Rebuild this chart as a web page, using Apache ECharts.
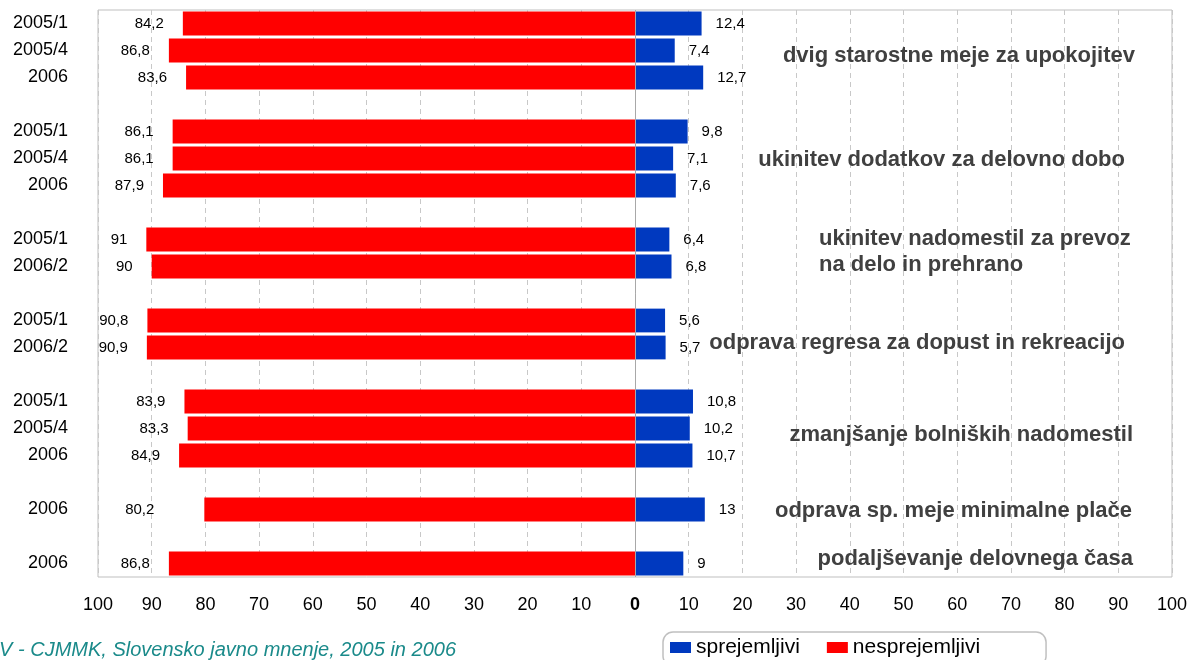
<!DOCTYPE html>
<html>
<head>
<meta charset="utf-8">
<script src="https://cdn.jsdelivr.net/npm/echarts@6/dist/echarts.min.js"></script>
<style>
html,body{margin:0;padding:0;background:#fff;}
#chart{width:1190px;height:660px;}
</style>
</head>
<body>
<div id="chart"></div>
<script>
// Row labels (empty strings are spacer rows between groups)
const categories = ['2005/1','2005/4','2006','', '2005/1','2005/4','2006','', '2005/1','2006/2','', '2005/1','2006/2','', '2005/1','2005/4','2006','', '2006','', '2006'];
// nesprejemljivi (unacceptable), %
const nesprejemljivi = [84.2, 86.8, 83.6, null, 86.1, 86.1, 87.9, null, 91, 90, null, 90.8, 90.9, null, 83.9, 83.3, 84.9, null, 80.2, null, 86.8];
// sprejemljivi (acceptable), %
const sprejemljivi = [12.4, 7.4, 12.7, null, 9.8, 7.1, 7.6, null, 6.4, 6.8, null, 5.6, 5.7, null, 10.8, 10.2, 10.7, null, 13, null, 9];
// Group titles
const groupTitles = [
  'dvig starostne meje za upokojitev',
  'ukinitev dodatkov za delovno dobo',
  'ukinitev nadomestil za prevoz\nna delo in prehrano',
  'odprava regresa za dopust in rekreacijo',
  'zmanjšanje bolniških nadomestil',
  'odprava sp. meje minimalne plače',
  'podaljševanje delovnega časa'
];
const seriesNames = ['sprejemljivi', 'nesprejemljivi'];
const xTicks = [-100, 100, 10];
const sourceNote = 'FDV - CJMMK, Slovensko javno mnenje, 2005 in 2006';

const FONT = '"Liberation Sans", Arial, sans-serif';
const fmt = v => String(Math.abs(v)).replace('.', ',');

// title placement (pixel annotations)
const titlePos = [
  {x:1135, y:56, align:'right'},
  {x:1125, y:160, align:'right'},
  {x:819, y:252, align:'left'},
  {x:1125, y:343, align:'right'},
  {x:1133, y:435, align:'right'},
  {x:1132, y:511, align:'right'},
  {x:1133, y:559, align:'right'}
];

const chart = echarts.init(document.getElementById('chart'), null, {renderer:'canvas'});

const redData = nesprejemljivi.map((v, i) => {
  if (v == null) return null;
  const item = {value: -v};
  if (i === 18) item.label = {distance: 50};
  return item;
});

const option = {
  animation: false,
  backgroundColor: '#ffffff',
  textStyle: {fontFamily: FONT},
  grid: {left: 98, right: 18, top: 10, bottom: 83, show: true, borderColor: '#bfbfbf', borderWidth: 1, containLabel: false},
  legend: {
    data: seriesNames,
    left: 663, top: 632,
    padding: [5, 66, 8, 7],
    itemWidth: 21, itemHeight: 11, itemGap: 27,
    icon: 'rect',
    borderColor: '#c0c0c0', borderWidth: 1.5, borderRadius: 10,
    textStyle: {fontSize: 21, color: '#000', fontFamily: FONT}
  },
  xAxis: {
    type: 'value',
    min: xTicks[0], max: xTicks[1], interval: xTicks[2],
    axisLine: {show: false},
    axisTick: {show: false},
    splitLine: {show: true, lineStyle: {color: '#c8c8c8', width: 1, type: [5, 4]}},
    axisLabel: {
      margin: 19, fontSize: 18, color: '#000', fontFamily: FONT,
      formatter: v => v === 0 ? '{z|0}' : String(Math.abs(v)),
      rich: {z: {fontWeight: 'bold', fontSize: 18, color: '#000', fontFamily: FONT}}
    }
  },
  yAxis: {
    type: 'category',
    data: categories,
    inverse: true,
    axisLine: {show: false, onZero: false},
    axisTick: {show: false},
    splitLine: {show: false},
    axisLabel: {margin: 30, fontSize: 18, color: '#000', fontFamily: FONT, interval: 0}
  },
  series: [
    {
      name: seriesNames[1],
      type: 'bar',
      stack: 'total',
      barCategoryGap: '12%',
      itemStyle: {color: '#ff0000'},
      label: {show: true, position: 'left', distance: 19, fontSize: 15, color: '#000', fontFamily: FONT,
        formatter: p => fmt(p.value)},
      data: redData
    },
    {
      name: seriesNames[0],
      type: 'bar',
      stack: 'total',
      barCategoryGap: '12%',
      itemStyle: {color: '#0039bf'},
      label: {show: true, position: 'right', distance: 14, fontSize: 15, color: '#000', fontFamily: FONT,
        formatter: p => fmt(p.value)},
      data: sprejemljivi,
      markLine: {
        silent: true, symbol: 'none', z: 10,
        label: {show: false},
        lineStyle: {color: '#a8a8a8', width: 1, type: 'solid'},
        data: [{xAxis: 0}]
      }
    }
  ],
  graphic: groupTitles.map((t, i) => ({
    type: 'text', z: 20,
    x: titlePos[i].x, y: titlePos[i].y,
    style: {
      text: t, fill: '#404040',
      font: 'bold 22px ' + FONT,
      align: titlePos[i].align, verticalAlign: 'middle', lineHeight: 26
    }
  })).concat([{
    type: 'text', z: 20, x: 456, y: 650,
    style: {text: sourceNote, fill: '#1a8a8a', font: 'italic 20px ' + FONT, align: 'right', verticalAlign: 'middle'}
  }])
};
chart.setOption(option);
</script>
</body>
</html>
